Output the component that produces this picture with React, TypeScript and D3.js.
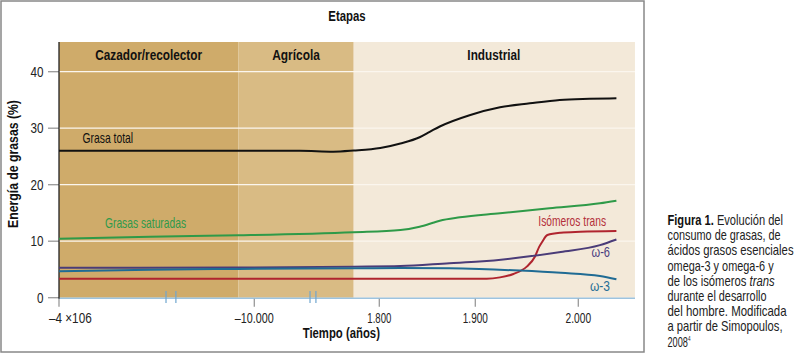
import React, { useLayoutEffect, useRef, useState } from "react";
import * as d3 from "d3";

const FONT = "'Liberation Sans', Arial, sans-serif";

// Stages (bands)
const stageNames = ["Cazador/recolector", "Agrícola", "Industrial"];
const stageStarts = [-4000000, -12000, 1775];
const stageEnd = 2055;
const stageColors = ["#cfab6a", "#d9bb84", "#f3e9d9"];

// Axis ticks
const xTickValues = [-4000000, -10000, 1800, 1900, 2000];
const xTickLabels = ["–4 ×106", "–10.000", "1.800", "1.900", "2.000"];
const yTickValues = [0, 10, 20, 30, 40];
const axisBreaks = [-1620000, -1400000, -3400, -2700];

// Series
const totalYears = [-4000000, -12000, -4600, -650, 1775, 1801, 1822, 1842, 1853, 1863, 1894, 1924, 1953, 1982, 2011, 2037];
const totalValues = [26.0, 26.0, 26.0, 25.85, 26.05, 26.5, 27.3, 28.4, 29.4, 30.3, 32.3, 33.7, 34.4, 35.0, 35.2, 35.3];

const satYears = [-4000000, -1976000, -12000, 1775, 1822, 1842, 1856, 1863, 1884, 1924, 1972, 2021, 2037];
const satValues = [10.44, 10.8, 11.04, 11.58, 11.98, 12.57, 13.27, 13.63, 14.23, 14.94, 15.82, 16.71, 17.17];

const transYears = [-4000000, 1911, 1924, 1937, 1950, 1958, 1962, 1965, 1970, 1983, 2002, 2037];
const transValues = [3.36, 3.36, 3.6, 4.2, 5.5, 7.3, 9.0, 9.9, 11.1, 11.5, 11.66, 11.8];

const w6Years = [-4000000, -12000, 1775, 1822, 1873, 1904, 1943, 1983, 2021, 2037];
const w6Values = [5.3, 5.35, 5.5, 5.6, 6.1, 6.4, 7.1, 8.1, 9.3, 10.3];

const w3Years = [-4000000, -1976000, -12000, 1775, 1822, 1873, 1904, 1943, 1983, 2021, 2037];
const w3Values = [4.7, 4.95, 5.1, 5.2, 5.25, 5.2, 5.08, 4.8, 4.4, 3.84, 3.26];

const seriesNames = ["Grasa total", "Grasas saturadas", "Isómeros trans", "ω-6", "ω-3"];
const seriesColors = ["#111111", "#2e9a48", "#b0242e", "#4a3c78", "#1f6b94"];

// Caption lines: [bold prefix, regular text, italic suffix]
const captionLines: [string, string, string][] = [
  ["Figura 1.", " Evolución del", ""],
  ["", "consumo de grasas, de", ""],
  ["", "ácidos grasos esenciales", ""],
  ["", "omega-3 y omega-6 y", ""],
  ["", "de los isómeros ", "trans"],
  ["", "durante el desarrollo", ""],
  ["", "del hombre. Modificada", ""],
  ["", "a partir de Simopoulos,", ""],
];
const captionWidths = [115.5, 113, 126, 106, 107, 99, 119, 115];

type TP = {
  x: number;
  y: number;
  w?: number;
  anchor?: "start" | "middle" | "end";
  size?: number;
  weight?: string;
  fill?: string;
  rotate?: number;
  children: React.ReactNode;
};
// Text squeezed horizontally to a target width (condensed look)
function T({ x, y, w, anchor = "start", size = 14, weight = "normal", fill = "#222", rotate, children }: TP) {
  const ref = useRef<SVGTextElement>(null);
  const [s, setS] = useState(0.8);
  useLayoutEffect(() => {
    if (w && ref.current) {
      const n = ref.current.getComputedTextLength();
      if (n > 0) setS(w / n);
    }
  }, [w]);
  const tf = `translate(${x},${y})${rotate ? ` rotate(${rotate})` : ""} scale(${w ? s : 1},1)`;
  return (
    <g transform={tf}>
      <text ref={ref} x={0} y={0} textAnchor={anchor} fontSize={size} fontWeight={weight} fill={fill}>
        {children}
      </text>
    </g>
  );
}

export default function App() {
  const W = 800, H = 354;
  const left = 59, right = 635, top = 42, bottom = 297.7;

  const x = d3
    .scaleLinear()
    .domain([-4000000, -12000, -10000, 1775, 1800, 1900, 2000])
    .range([59, 238.3, 254.3, 353.7, 379.3, 475.3, 578.3]);
  const y = d3.scaleLinear().domain([0, 40]).range([bottom, 71.7]);

  const line = d3
    .line<[number, number]>()
    .x((d) => x(d[0]))
    .y((d) => y(d[1]))
    .curve(d3.curveMonotoneX);

  const zip = (a: number[], b: number[]) => a.map((v, i) => [v, b[i]] as [number, number]);
  const series = [
    zip(totalYears, totalValues),
    zip(satYears, satValues),
    zip(transYears, transValues),
    zip(w6Years, w6Values),
    zip(w3Years, w3Values),
  ];
  const bandEdges = [...stageStarts, stageEnd];
  const stageWidths = [106.7, 47.7, 53];
  const xLabelWidths = [42.7, 39, 24, 25, 25.5];

  return (
    <svg width={W} height={H} style={{ display: "block" }} fontFamily={FONT}>
      <style>{`body{margin:0}`}</style>
      <rect x={0} y={0} width={W} height={H} fill="#fff" />
      <rect x={1} y={1} width={643} height={351} fill="none" stroke="#888" strokeWidth={1.5} />

      {/* Bands */}
      {stageNames.map((n, i) => (
        <rect key={n} x={x(bandEdges[i])} y={top} width={x(bandEdges[i + 1]) - x(bandEdges[i])} height={bottom - top} fill={stageColors[i]} />
      ))}
      {stageNames.map((n, i) => (
        <T key={"l" + n} x={(x(bandEdges[i]) + x(bandEdges[i + 1])) / 2 - (i === 2 ? 0.5 : 0)} y={59.5} anchor="middle" weight="bold" size={14.5} fill="#111" w={stageWidths[i]}>
          {n}
        </T>
      ))}
      <T x={347} y={21} anchor="middle" weight="bold" size={14} fill="#111" w={37.4}>Etapas</T>

      {/* Gridlines */}
      {yTickValues.filter((v) => v > 0).map((v) => (
        <line key={v} x1={left} x2={right} y1={y(v)} y2={y(v)} stroke="#fbf6ee" strokeWidth={1.3} />
      ))}

      {/* Y ticks */}
      {yTickValues.map((v) => (
        <g key={"yt" + v}>
          <line x1={48} x2={left} y1={y(v)} y2={y(v)} stroke="#999" strokeWidth={1.3} />
          <T x={43.5} y={y(v) + 5.2} anchor="end" size={14.5} fill="#222" w={v === 0 ? 6.5 : 13}>{v}</T>
        </g>
      ))}

      {/* X axis */}
      <line x1={left} x2={right} y1={bottom + 0.5} y2={bottom + 0.5} stroke="#9cc3df" strokeWidth={1.5} />
      {xTickValues.map((v, i) => (
        <g key={"xt" + v}>
          <line x1={x(v)} x2={x(v)} y1={bottom + 1} y2={bottom + 9} stroke="#999" strokeWidth={1.3} />
          <T x={i === 0 ? x(v) - 10 : x(v)} y={323} anchor={i === 0 ? "start" : "middle"} size={14.5} fill="#222" w={xLabelWidths[i]}>{xTickLabels[i]}</T>
        </g>
      ))}
      {axisBreaks.map((v) => (
        <line key={"b" + v} x1={x(v)} x2={x(v)} y1={291} y2={303} stroke="#6fa6cf" strokeWidth={1.2} />
      ))}
      <line x1={left} x2={left} y1={top} y2={bottom + 1} stroke="#222" strokeWidth={1.3} />

      {/* Series */}
      {series.map((s, i) => (
        <path key={"s" + i} d={line(s) || ""} fill="none" stroke={seriesColors[i]} strokeWidth={2} />
      ))}

      {/* Series labels */}
      <T x={82.5} y={143} size={14} fill="#111" w={50.6}>{seriesNames[0]}</T>
      <T x={105} y={227.5} size={14} fill="#2f9a4a" w={81}>{seriesNames[1]}</T>
      <T x={538.3} y={225.5} size={14} fill="#b3303a" w={67.7}>{seriesNames[2]}</T>
      <T x={610} y={257} anchor="end" size={14} fill="#4a3c80" w={18.5}>{seriesNames[3]}</T>
      <T x={610} y={290.5} anchor="end" size={14} fill="#1f6e96" w={20}>{seriesNames[4]}</T>

      {/* Axis titles */}
      <T x={17.5} y={164} rotate={-90} anchor="middle" weight="bold" size={14.5} fill="#111" w={128}>Energía de grasas (%)</T>
      <T x={341.3} y={338} anchor="middle" weight="bold" size={14.5} fill="#111" w={77.3}>Tiempo (años)</T>

      {/* Caption */}
      {captionLines.map((l, i) => (
        <T key={"c" + i} x={667.5} y={225 + 15.2 * i} size={14} fill="#222" w={captionWidths[i]}>
          {l[0] ? <tspan fontWeight="bold" fill="#111">{l[0]}</tspan> : null}
          {l[1]}
          {l[2] ? <tspan fontStyle="italic">{l[2]}</tspan> : null}
        </T>
      ))}
      <T x={667.5} y={225 + 15.2 * 8} size={14} fill="#222" w={23}>
        2008<tspan fontSize={7} dy={-6}>4</tspan>
      </T>
    </svg>
  );
}
